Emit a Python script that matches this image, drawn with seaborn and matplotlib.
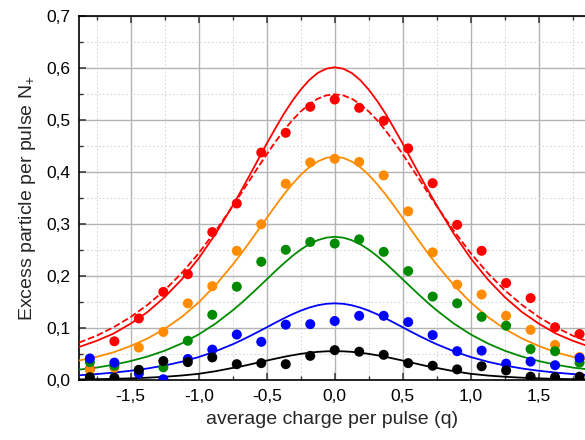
import numpy as np
import pandas as pd
import matplotlib
matplotlib.use("Agg")
import matplotlib.pyplot as plt
from matplotlib.ticker import MultipleLocator, FuncFormatter
import seaborn as sns

# ---- measured data points (x = average charge per pulse) ----
x_pts = [-1.80, -1.62, -1.44, -1.26, -1.08, -0.90, -0.72, -0.54, -0.36, -0.18, 0.00,
         0.18, 0.36, 0.54, 0.72, 0.90, 1.08, 1.26, 1.44, 1.62, 1.80]
red_pts = [0.022, 0.075, 0.119, 0.170, 0.204, 0.285, 0.340, 0.438, 0.476, 0.526, 0.540,
           0.524, 0.499, 0.446, 0.379, 0.299, 0.249, 0.187, 0.158, 0.102, 0.089]
orange_pts = [0.020, 0.024, 0.063, 0.093, 0.148, 0.181, 0.249, 0.300, 0.378, 0.419, 0.426,
              0.420, 0.394, 0.325, 0.246, 0.184, 0.165, 0.124, 0.097, 0.068, 0.045]
green_pts = [0.035, 0.028, 0.020, 0.025, 0.076, 0.126, 0.180, 0.228, 0.251, 0.266, 0.263,
             0.271, 0.247, 0.210, 0.161, 0.148, 0.122, 0.105, 0.060, 0.056, 0.034]
blue_pts = [0.042, 0.034, 0.013, 0.002, 0.041, 0.059, 0.088, 0.074, 0.107, 0.108, 0.114,
            0.124, 0.124, 0.112, 0.087, 0.056, 0.057, 0.032, 0.036, 0.029, 0.043]
black_pts = [0.006, 0.005, 0.020, 0.037, 0.035, 0.044, 0.031, 0.033, 0.031, 0.047, 0.058,
             0.055, 0.049, 0.033, 0.028, 0.021, 0.027, 0.019, 0.007, 0.006, 0.007]

# ---- model curves (symmetric about q = 0) ----
x_half = [0.0, 0.0625, 0.125, 0.1875, 0.25, 0.3125, 0.375, 0.4375, 0.5, 0.5625, 0.625,
          0.6875, 0.75, 0.875, 1.0, 1.125, 1.25, 1.375, 1.5, 1.625, 1.75, 1.88]
red_solid_half = [0.602, 0.5992, 0.591, 0.5773, 0.559, 0.537, 0.512, 0.484, 0.455, 0.4247,
                  0.3945, 0.3647, 0.336, 0.282, 0.2345, 0.194, 0.160, 0.1316, 0.109, 0.090,
                  0.076, 0.064]
red_dash_half = [0.550, 0.5479, 0.5415, 0.5311, 0.517, 0.500, 0.480, 0.4581, 0.4346, 0.410,
                 0.385, 0.3598, 0.335, 0.2876, 0.2444, 0.2063, 0.1733, 0.1453, 0.1218, 0.1021,
                 0.0858, 0.0725]
orange_half = [0.430, 0.4277, 0.4208, 0.4098, 0.395, 0.3771, 0.357, 0.335, 0.312, 0.289,
               0.266, 0.2437, 0.2224, 0.1833, 0.1498, 0.1218, 0.0989, 0.0806, 0.066, 0.054,
               0.045, 0.038]
green_half = [0.276, 0.2743, 0.2695, 0.2617, 0.2513, 0.2388, 0.2247, 0.2097, 0.1941, 0.1785,
              0.1632, 0.1484, 0.1345, 0.1093, 0.0882, 0.0709, 0.0569, 0.0458, 0.037, 0.030,
              0.0245, 0.0205]
blue_half = [0.148, 0.1471, 0.1443, 0.1398, 0.1339, 0.1269, 0.119, 0.1106, 0.1019, 0.0933,
             0.0849, 0.0769, 0.0693, 0.0559, 0.0447, 0.0357, 0.0285, 0.0228, 0.0183, 0.0148,
             0.012, 0.0097]
black_half = [0.056, 0.0557, 0.0547, 0.0530, 0.0508, 0.0481, 0.045, 0.0415, 0.0379, 0.0342,
              0.0304, 0.0268, 0.0238, 0.0175, 0.0125, 0.0092, 0.0068, 0.0050, 0.0037, 0.0028,
              0.0022, 0.0018]

x_ticks = [-1.5, -1.0, -0.5, 0.0, 0.5, 1.0, 1.5]
y_ticks = [0.0, 0.1, 0.2, 0.3, 0.4, 0.5, 0.6, 0.7]

colors = {"red": "#ff0000", "orange": "#ff8c00", "green": "#008a00",
          "blue": "#0000ff", "black": "#000000"}


def mirror(xh, yh):
    xs = [-v for v in xh[:0:-1]] + list(xh)
    ys = list(yh[:0:-1]) + list(yh)
    return xs, ys


sns.set_theme(style="white")
plt.rcParams["font.family"] = ["Liberation Sans", "DejaVu Sans"]
plt.rcParams["mathtext.fontset"] = "custom"
plt.rcParams["mathtext.rm"] = "Liberation Sans"

fig = plt.figure(figsize=(5.85, 4.40), dpi=100)
ax = fig.add_axes([79 / 585, 1 - 380.3 / 440, 1 - 79 / 585, (380.3 - 16.3) / 440])

curves = [("red", red_solid_half, "-"), ("red", red_dash_half, "--"),
          ("orange", orange_half, "-"), ("green", green_half, "-"),
          ("blue", blue_half, "-"), ("black", black_half, "-")]
for cname, yh, ls in curves:
    xs, ys = mirror(x_half, yh)
    df = pd.DataFrame({"x": xs, "y": ys})
    sns.lineplot(data=df, x="x", y="y", ax=ax, color=colors[cname], lw=1.3,
                 linestyle=ls, sort=False, estimator=None, zorder=3)

point_sets = [("red", red_pts), ("orange", orange_pts), ("green", green_pts),
              ("blue", blue_pts), ("black", black_pts)]
for cname, ys in point_sets:
    df = pd.DataFrame({"x": x_pts, "y": ys})
    sns.scatterplot(data=df, x="x", y="y", ax=ax, color=colors[cname], s=52,
                    edgecolor="none", linewidth=0, zorder=4)

ax.set_xlim(-1.88, 1.84)
ax.set_ylim(0.0, 0.7)
ax.set_xticks(x_ticks)
ax.set_yticks(y_ticks)
ax.xaxis.set_minor_locator(MultipleLocator(0.25))
ax.yaxis.set_minor_locator(MultipleLocator(0.05))
ax.xaxis.set_major_formatter(FuncFormatter(lambda v, p: f"{v:.1f}".replace(".", ",")))
ax.yaxis.set_major_formatter(FuncFormatter(lambda v, p: f"{v:.1f}".replace(".", ",")))

ax.grid(which="major", color="#b4b4b4", lw=1.0, ls="-", zorder=0)
ax.grid(which="minor", color="#d8d8d8", lw=0.8, ls=(0, (1.5, 2)), zorder=0)
ax.set_axisbelow(True)

ax.tick_params(which="major", direction="in", length=5, width=1.1, color="#333333",
               top=True, bottom=True, left=True, right=False, labelsize=12.5, pad=6,
               labelcolor="black")
ax.tick_params(which="minor", direction="in", length=3, width=1.0, color="#333333",
               top=True, bottom=True, left=True, right=False)

for side in ["left", "bottom", "top"]:
    ax.spines[side].set_visible(True)
    ax.spines[side].set_color("black")
    ax.spines[side].set_linewidth(1.2)
ax.spines["right"].set_visible(False)

ax.set_xlabel("average charge per pulse (q)", fontsize=14, labelpad=5)
ax.set_ylabel(r"Excess particle per pulse N$_\mathregular{+}$", fontsize=14, labelpad=6)

fig.savefig("out.png", dpi=100)
